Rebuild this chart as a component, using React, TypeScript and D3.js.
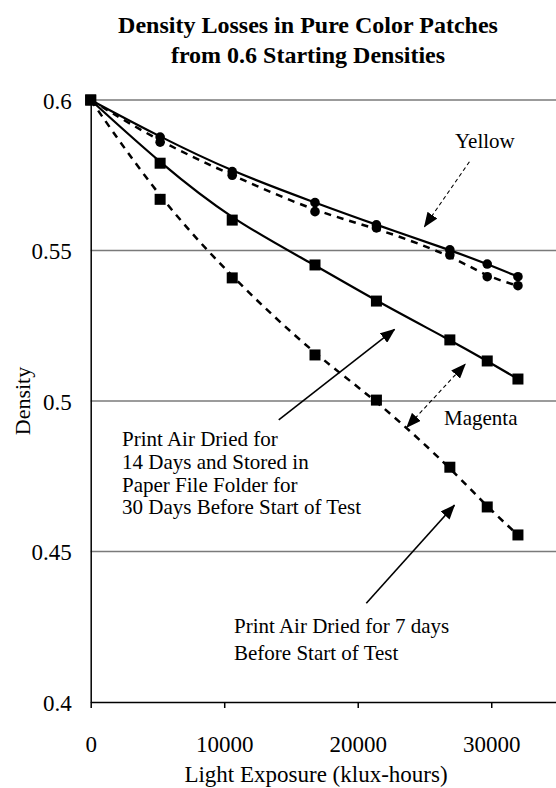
import React, { useEffect, useRef } from 'react';
import * as d3 from 'd3';

// exposure (klux-hours) at each reading
const exposure = [0, 5200, 10600, 16800, 21400, 26900, 29700, 32000];
// densities
const yellowStored = [0.6, 0.5877, 0.5762, 0.5659, 0.5585, 0.5502, 0.5455, 0.5413];
const yellowFresh = [0.6, 0.586, 0.575, 0.5629, 0.5575, 0.5485, 0.5413, 0.5383];
const magentaStored = [0.6, 0.579, 0.5601, 0.5452, 0.5332, 0.5203, 0.5133, 0.5073];
const magentaFresh = [0.6, 0.567, 0.5409, 0.5153, 0.5003, 0.478, 0.4648, 0.4555];

const xTicks = [0, 10000, 20000, 30000];
const yTicks = [0.4, 0.45, 0.5, 0.55, 0.6];

const W = 556;
const H = 788;
const FONT = '"Liberation Serif", "Times New Roman", serif';

const App: React.FC = () => {
  const container = useRef<HTMLDivElement>(null);

  useEffect(() => {
    document.body.style.margin = '0';
    const root = d3.select(container.current);
    root.selectAll('*').remove();

    const svg = root
      .append('svg')
      .attr('width', W)
      .attr('height', H)
      .style('display', 'block')
      .style('font-family', FONT);

    const x = d3.scaleLinear().domain([0, 35000]).range([90.7, 558]);
    const y = d3.scaleLinear().domain([0.4, 0.6]).range([702, 100]);

    const defs = svg.append('defs');
    defs.append('marker')
      .attr('id', 'head')
      .attr('viewBox', '0 0 15 12')
      .attr('refX', 14)
      .attr('refY', 6)
      .attr('markerWidth', 15)
      .attr('markerHeight', 12)
      .attr('markerUnits', 'userSpaceOnUse')
      .attr('orient', 'auto-start-reverse')
      .append('path')
      .attr('d', 'M0,0 L15,6 L0,12 Z')
      .attr('fill', '#000');

    // title
    const title = svg.append('text')
      .attr('text-anchor', 'middle')
      .attr('font-weight', 'bold')
      .attr('font-size', 24);
    title.append('tspan').attr('x', 308).attr('y', 33).text('Density Losses in Pure Color Patches');
    title.append('tspan').attr('x', 308).attr('y', 63).text('from 0.6 Starting Densities');

    // gridlines
    svg.append('g')
      .selectAll('line')
      .data(yTicks.filter((d) => d > 0.4))
      .join('line')
      .attr('x1', x(0))
      .attr('x2', W)
      .attr('y1', (d) => y(d))
      .attr('y2', (d) => y(d))
      .attr('stroke', '#7a7a7a')
      .attr('stroke-width', 1.5);

    // axes
    const xAxis = d3.axisBottom(x)
      .tickValues(xTicks)
      .tickSize(6)
      .tickSizeOuter(0)
      .tickFormat((d) => String(d));
    const gx = svg.append('g')
      .attr('transform', `translate(0, ${y(0.4)})`)
      .call(xAxis);
    gx.select('.domain').attr('stroke-width', 1.5);
    gx.selectAll('.tick line').attr('stroke-width', 1.5);
    gx.selectAll('.tick text')
      .attr('font-family', FONT)
      .attr('font-size', 23)
      .attr('y', 50)
      .attr('dy', 0);

    const yAxis = d3.axisLeft(y)
      .tickValues(yTicks)
      .tickSize(0)
      .tickSizeOuter(0)
      .tickFormat((d) => String(d));
    const gy = svg.append('g')
      .attr('transform', `translate(${x(0)}, 0)`)
      .call(yAxis);
    gy.select('.domain').attr('stroke-width', 1.5);
    gy.selectAll('.tick text')
      .attr('font-family', FONT)
      .attr('font-size', 23)
      .attr('x', -19)
      .attr('dy', '0.35em');

    svg.append('text')
      .attr('x', 316)
      .attr('y', 782)
      .attr('text-anchor', 'middle')
      .attr('font-size', 23)
      .text('Light Exposure (klux-hours)');

    svg.append('text')
      .attr('transform', `translate(30, ${y(0.5)}) rotate(-90)`)
      .attr('text-anchor', 'middle')
      .attr('font-size', 22)
      .text('Density');

    // series lines
    const line = d3.line<number>()
      .x((d, i) => x(exposure[i]))
      .y((d) => y(d))
      .curve(d3.curveBasis);

    const series = [
      { values: yellowFresh, dash: '7,6', width: 2.5 },
      { values: yellowStored, dash: null, width: 2.2 },
      { values: magentaFresh, dash: '7,6', width: 2.5 },
      { values: magentaStored, dash: null, width: 2.2 },
    ];
    svg.append('g')
      .selectAll('path')
      .data(series)
      .join('path')
      .attr('d', (s) => line(s.values))
      .attr('fill', 'none')
      .attr('stroke', '#000')
      .attr('stroke-width', (s) => s.width)
      .attr('stroke-dasharray', (s) => s.dash);

    // markers
    const circles = [...yellowStored, ...yellowFresh].map((v, i) => ({ x: exposure[i % exposure.length], v }));
    svg.append('g')
      .selectAll('circle')
      .data(circles)
      .join('circle')
      .attr('cx', (d) => x(d.x))
      .attr('cy', (d) => y(d.v))
      .attr('r', 4.8)
      .attr('fill', '#000');

    const squares = [...magentaStored, ...magentaFresh].map((v, i) => ({ x: exposure[i % exposure.length], v }));
    const s = 11;
    svg.append('g')
      .selectAll('rect')
      .data(squares)
      .join('rect')
      .attr('x', (d) => x(d.x) - s / 2)
      .attr('y', (d) => y(d.v) - s / 2)
      .attr('width', s)
      .attr('height', s)
      .attr('fill', '#000');

    // annotation arrows (data coordinates)
    const arrows = [
      { from: [28366, 0.5795], to: [25000, 0.5579], dash: '4,3', both: false, width: 1.1 },
      { from: [28045, 0.5122], to: [23678, 0.4913], dash: '4,3', both: true, width: 1.1 },
      { from: [14083, 0.4937], to: [22758, 0.5238], dash: null, both: false, width: 1.6 },
      { from: [20642, 0.4328], to: [27245, 0.4654], dash: null, both: false, width: 1.6 },
    ];
    svg.append('g')
      .selectAll('line')
      .data(arrows)
      .join('line')
      .attr('x1', (a) => x(a.from[0]))
      .attr('y1', (a) => y(a.from[1]))
      .attr('x2', (a) => x(a.to[0]))
      .attr('y2', (a) => y(a.to[1]))
      .attr('stroke', '#000')
      .attr('stroke-width', (a) => a.width)
      .attr('stroke-dasharray', (a) => a.dash)
      .attr('marker-end', 'url(#head)')
      .attr('marker-start', (a) => (a.both ? 'url(#head)' : null));

    // annotation text
    const notes = [
      { x: 455, y: 148, lines: ['Yellow'] },
      { x: 444, y: 425, lines: ['Magenta'] },
      {
        x: 122,
        y: 446,
        lines: [
          'Print Air Dried for',
          '14 Days and Stored in',
          'Paper File Folder for',
          '30 Days Before Start of Test',
        ],
      },
      { x: 234, y: 633, lines: ['Print Air Dried for 7 days', 'Before Start of Test'], gap: 27 },
    ];
    notes.forEach((n) => {
      const t = svg.append('text').attr('font-size', 21);
      n.lines.forEach((l, i) => {
        t.append('tspan')
          .attr('x', n.x)
          .attr('y', n.y + i * (n.gap ?? 22.8))
          .text(l);
      });
    });
  }, []);

  return <div ref={container} />;
};

export default App;
